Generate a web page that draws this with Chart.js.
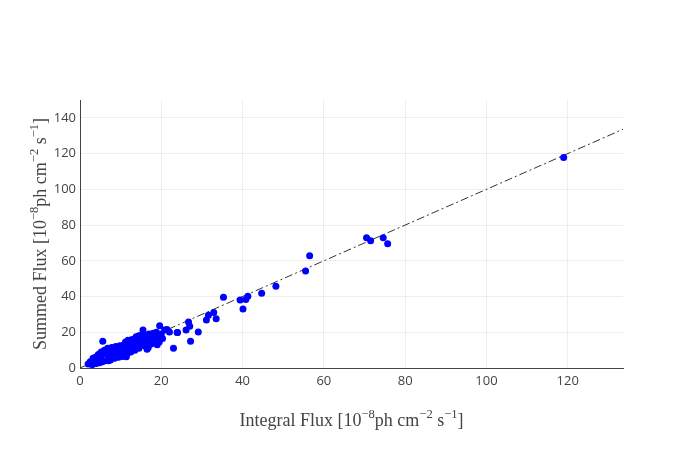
<!DOCTYPE html>
<html>
<head>
<meta charset="utf-8">
<script src="https://cdn.jsdelivr.net/npm/chart.js@4"></script>
<style>
  html, body { margin: 0; padding: 0; background: #fff; }
  #wrap { width: 700px; height: 450px; position: relative; }
</style>
</head>
<body>
<div id="wrap"><canvas id="c" width="700" height="450"></canvas></div>
<script>
// ---- data ----
const integralFlux = [
  2.0, 2.5, 3.0, 3.2, 3.5, 3.8, 4.0, 4.2, 4.5, 4.8, 5.0, 5.2, 5.5, 5.6, 5.8, 6.0, 6.2, 6.5, 6.8, 7.0,
  7.2, 7.5, 7.8, 8.0, 8.2, 8.5, 8.8, 9.0, 9.2, 9.5, 9.8, 10.0, 10.2, 10.5, 10.8, 11.0, 11.2, 11.5, 11.8, 12.0,
  12.2, 12.5, 12.8, 13.0, 13.2, 13.5, 13.8, 14.0, 14.2, 14.5, 14.8, 15.0, 15.2, 15.5, 15.8, 16.0, 16.2, 16.5, 16.8, 17.0,
  17.2, 17.5, 17.8, 18.0, 18.2, 18.5, 18.8, 19.0, 19.5, 19.6, 20.0, 20.3, 20.8, 21.4, 10.0, 11.4, 11.7, 7.0,
  12.5, 16.5, 17.5, 19.0, 14.5,
  22.0, 23.0, 23.9, 24.0, 26.1, 26.7, 27.0, 27.2, 29.1, 31.1, 31.6, 32.9, 33.5, 35.3,
  39.4, 40.1, 40.8, 41.3, 44.7, 48.2, 55.5, 56.5, 70.5, 71.5, 74.6, 75.7, 119.0
];
const summedFlux = [
  2.2, 3.5, 1.8, 5.5, 2.5, 6.0, 2.5, 4.8, 7.5, 3.0, 6.0, 9.0, 3.5, 15.0, 8.0, 10.0, 4.0, 8.0, 11.0, 5.0,
  9.5, 4.5, 11.5, 7.0, 10.5, 5.5, 12.0, 7.5, 11.0, 6.0, 12.5, 9.0, 11.5, 6.5, 13.0, 10.0, 14.5, 8.0, 15.5, 11.0,
  13.0, 9.0, 16.0, 12.0, 15.0, 10.0, 17.5, 13.0, 15.5, 11.0, 18.0, 14.0, 17.0, 21.2, 12.5, 18.5, 15.0, 17.5, 11.5, 19.0,
  16.0, 18.5, 14.0, 19.5, 17.0, 15.5, 20.0, 18.0, 14.5, 23.6, 19.0, 16.5, 21.2, 21.6, 7.3, 6.3, 8.4, 4.0,
  13.5, 10.5, 13.5, 13.0, 18.0,
  20.2, 11.0, 19.9, 19.9, 21.2, 25.7, 23.4, 15.0, 20.2, 26.8, 29.5, 31.1, 27.5, 39.6,
  38.0, 33.0, 38.3, 40.2, 41.8, 45.8, 54.3, 62.8, 72.9, 71.2, 72.9, 69.6, 117.8
];
const refLineX = [0, 150];
const refLineY = [0, 150];
const xTickLabels = ['0', '20', '40', '60', '80', '100', '120'];
const yTickLabels = ['0', '20', '40', '60', '80', '100', '120', '140'];
const xTitleParts = [['Integral Flux [10', 0], ['\u22128', 1], ['ph cm', 0], ['\u22122', 1], [' s', 0], ['\u22121', 1], [']', 0]];
const yTitleParts = [['Summed Flux [10', 0], ['\u22128', 1], ['ph cm', 0], ['\u22122', 1], [' s', 0], ['\u22121', 1], [']', 0]];

const scatterPts = integralFlux.map((x, i) => ({ x: x, y: summedFlux[i] }));
const linePts = refLineX.map((x, i) => ({ x: x, y: refLineY[i] }));

const TITLE_FONT = '"Liberation Serif", "DejaVu Serif", serif';
function drawMath(ctx, parts, size) {
  let total = 0;
  const widths = parts.map(([t, sup]) => {
    ctx.font = (sup ? size * 0.7 : size) + 'px ' + TITLE_FONT;
    const w = ctx.measureText(t).width;
    total += w;
    return w;
  });
  let x = -total / 2;
  parts.forEach(([t, sup], i) => {
    ctx.font = (sup ? size * 0.7 : size) + 'px ' + TITLE_FONT;
    ctx.fillText(t, x, sup ? -size * 0.42 : 0);
    x += widths[i];
  });
}

const titlePlugin = {
  id: 'mathTitles',
  afterDraw(chart) {
    const ctx = chart.ctx;
    const a = chart.chartArea;
    ctx.save();
    ctx.fillStyle = '#444';
    ctx.textBaseline = 'alphabetic';
    ctx.textAlign = 'left';
    ctx.translate((a.left + a.right) / 2, 426);
    drawMath(ctx, xTitleParts, 18);
    ctx.restore();
    ctx.save();
    ctx.fillStyle = '#444';
    ctx.textBaseline = 'alphabetic';
    ctx.textAlign = 'left';
    ctx.translate(46, (a.top + a.bottom) / 2);
    ctx.rotate(-Math.PI / 2);
    drawMath(ctx, yTitleParts, 18);
    ctx.restore();
  }
};

new Chart(document.getElementById('c'), {
  type: 'scatter',
  data: {
    datasets: [
      {
        type: 'line',
        data: linePts,
        borderColor: '#333',
        borderWidth: 1,
        borderDash: [8, 3, 2, 3],
        pointRadius: 0,
        fill: false,
        showLine: true,
        order: 2
      },
      {
        data: scatterPts,
        backgroundColor: '#0000ff',
        borderColor: '#0000ff',
        borderWidth: 0,
        pointRadius: 3.5,
        order: 1
      }
    ]
  },
  options: {
    responsive: false,
    animation: false,
    events: [],
    layout: { padding: { left: 0, right: 77, top: 100, bottom: 0 } },
    plugins: { legend: { display: false }, tooltip: { enabled: false }, title: { display: false } },
    scales: {
      x: {
        type: 'linear',
        min: 0,
        max: 133.6,
        afterFit(s) { s.height = 82; },
        border: { display: true, color: '#444', width: 1 },
        grid: { color: '#eee', lineWidth: 1, drawTicks: false },
        ticks: {
          stepSize: 20,
          includeBounds: false,
          maxRotation: 0,
          padding: 5,
          color: '#444',
          font: { family: '"Open Sans", sans-serif', size: 13 },
          callback: (v) => xTickLabels[Math.round(v / 20)]
        }
      },
      y: {
        type: 'linear',
        min: 0,
        max: 150,
        afterFit(s) { s.width = 80; },
        border: { display: true, color: '#444', width: 1 },
        grid: { color: '#eee', lineWidth: 1, drawTicks: false },
        ticks: {
          stepSize: 20,
          includeBounds: false,
          padding: 4,
          color: '#444',
          font: { family: '"Open Sans", sans-serif', size: 13 },
          callback: (v) => yTickLabels[Math.round(v / 20)]
        }
      }
    }
  },
  plugins: [titlePlugin]
});
</script>
</body>
</html>
